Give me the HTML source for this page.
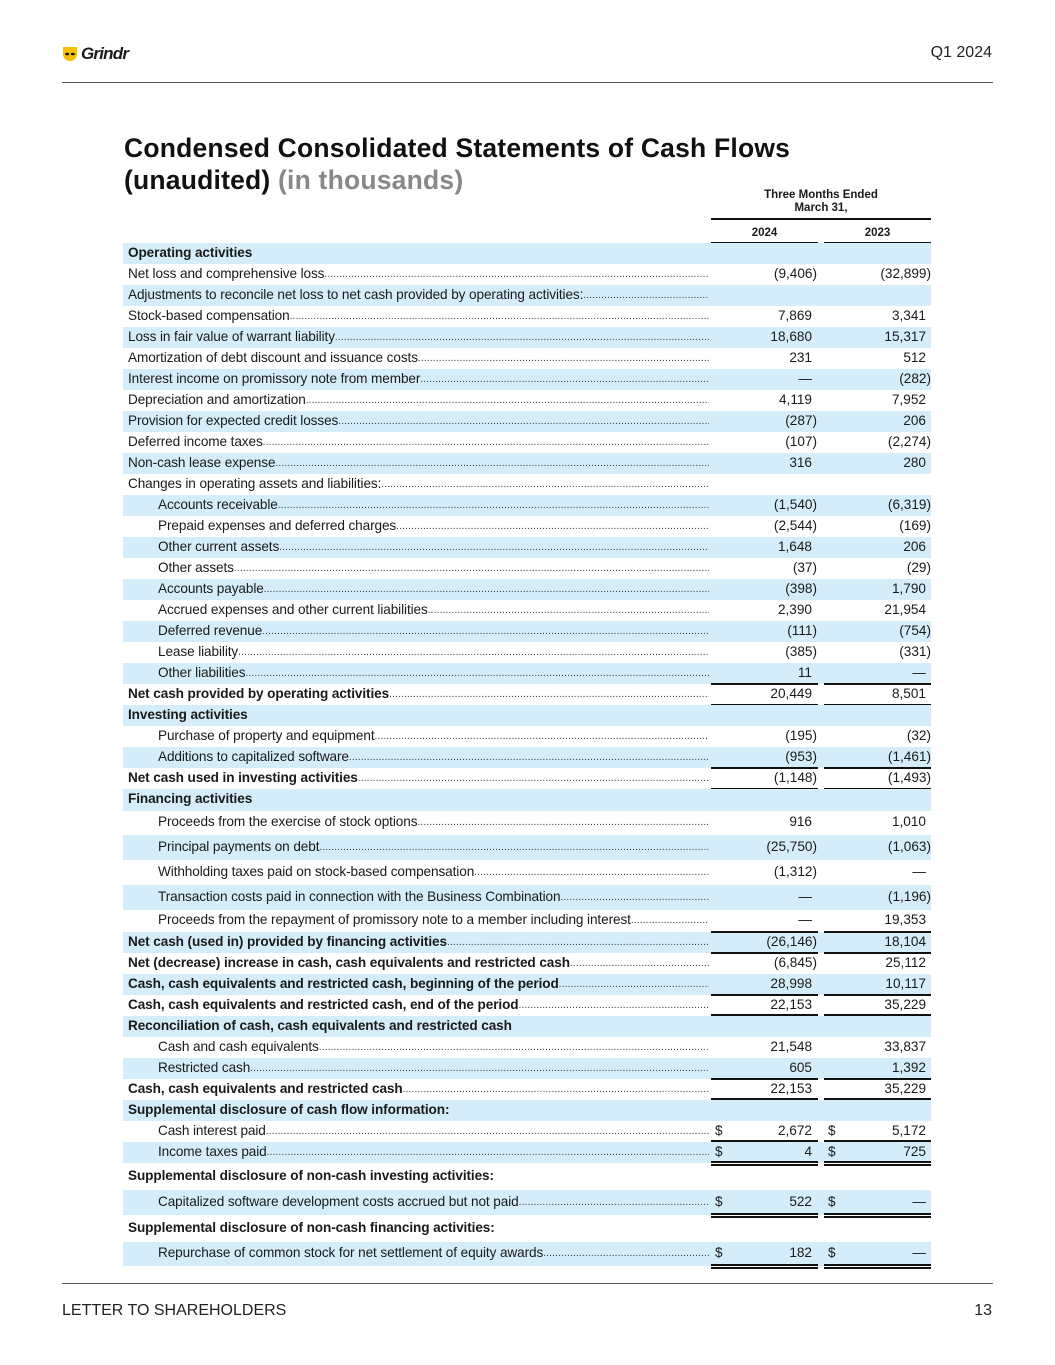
<!DOCTYPE html>
<html><head><meta charset="utf-8">
<style>
html,body{margin:0;padding:0;background:#fff}
body{width:1055px;height:1365px;position:relative;overflow:hidden;font-family:"Liberation Sans",sans-serif;color:#1a1a1a}
.abs{position:absolute}
.row{position:absolute;left:123px;width:808px}
.shade{background:#d5edfb}
.lab{position:absolute;left:5px;width:581px;display:flex;white-space:nowrap;overflow:hidden;font-size:13.6px;letter-spacing:-0.1px}
.lab.ind{left:35px;width:551px}
.dots{flex:1;overflow:hidden;color:#333;font-size:10px;letter-spacing:0.2px;align-self:flex-end;padding-bottom:1px;font-weight:normal}
.b{font-weight:bold}
.v{position:absolute;font-size:13.6px;text-align:right;white-space:nowrap}
.ln{position:absolute;height:1.5px;background:#111}
</style></head><body>
<div class="abs" style="left:62px;top:44px;display:flex;align-items:center">
<svg width="16" height="16" viewBox="0 0 16 16"><path d="M1 1h14v7c0 4-3 7-7 7S1 12 1 8z" fill="#f7c000"/><ellipse cx="5.2" cy="8" rx="2" ry="1.3" fill="#111"/><ellipse cx="10.8" cy="8" rx="2" ry="1.3" fill="#111"/></svg>
<span style="font-weight:bold;font-style:italic;font-size:17px;margin-left:3px;letter-spacing:-0.8px">Grindr</span></div>
<div class="abs" style="right:63px;top:44px;font-size:16px;color:#222">Q1 2024</div>
<div class="abs" style="left:62px;top:82px;width:931px;height:1px;background:#555"></div>
<div class="abs" style="left:124px;top:132px;font-size:26.5px;font-weight:bold;line-height:32px;color:#111;letter-spacing:0.2px">Condensed Consolidated Statements of Cash Flows<br>(unaudited) <span style="color:#888">(in thousands)</span></div>
<div class="abs b" style="left:711px;top:189px;width:220px;text-align:center;font-size:11.5px;line-height:13px">Three Months Ended<br>March 31,</div>
<div class="ln" style="left:711px;top:218px;width:220px"></div>
<div class="abs b" style="left:711px;top:227px;width:107px;text-align:center;font-size:11.5px">2024</div>
<div class="abs b" style="left:824px;top:227px;width:107px;text-align:center;font-size:11.5px">2023</div>
<div class="ln" style="left:711px;top:242px;width:107px"></div>
<div class="ln" style="left:824px;top:242px;width:107px"></div>
<div id="tbl"></div>
<div class="abs" style="left:62px;top:1283px;width:931px;height:1px;background:#555"></div>
<div class="abs" style="left:62px;top:1302px;font-size:16px;color:#222">LETTER TO SHAREHOLDERS</div>
<div class="abs" style="right:63px;top:1302px;font-size:16px;color:#222">13</div>
<script>
const labels=["Operating activities","Net loss and comprehensive loss","Adjustments to reconcile net loss to net cash provided by operating activities:","Stock-based compensation","Loss in fair value of warrant liability","Amortization of debt discount and issuance costs","Interest income on promissory note from member","Depreciation and amortization","Provision for expected credit losses","Deferred income taxes","Non-cash lease expense","Changes in operating assets and liabilities:","Accounts receivable","Prepaid expenses and deferred charges","Other current assets","Other assets","Accounts payable","Accrued expenses and other current liabilities","Deferred revenue","Lease liability","Other liabilities","Net cash provided by operating activities","Investing activities","Purchase of property and equipment","Additions to capitalized software","Net cash used in investing activities","Financing activities","Proceeds from the exercise of stock options","Principal payments on debt","Withholding taxes paid on stock-based compensation","Transaction costs paid in connection with the Business Combination","Proceeds from the repayment of promissory note to a member including interest","Net cash (used in) provided by financing activities","Net (decrease) increase in cash, cash equivalents and restricted cash","Cash, cash equivalents and restricted cash, beginning of the period","Cash, cash equivalents and restricted cash, end of the period","Reconciliation of cash, cash equivalents and restricted cash","Cash and cash equivalents","Restricted cash","Cash, cash equivalents and restricted cash","Supplemental disclosure of cash flow information:","Cash interest paid","Income taxes paid","Supplemental disclosure of non-cash investing activities:","Capitalized software development costs accrued but not paid","Supplemental disclosure of non-cash financing activities:","Repurchase of common stock for net settlement of equity awards"];
const v2024=["","(9,406)","","7,869","18,680","231","—","4,119","(287)","(107)","316","","(1,540)","(2,544)","1,648","(37)","(398)","2,390","(111)","(385)","11","20,449","","(195)","(953)","(1,148)","","916","(25,750)","(1,312)","—","—","(26,146)","(6,845)","28,998","22,153","","21,548","605","22,153","","2,672","4","","522","","182"];
const v2023=["","(32,899)","","3,341","15,317","512","(282)","7,952","206","(2,274)","280","","(6,319)","(169)","206","(29)","1,790","21,954","(754)","(331)","—","8,501","","(32)","(1,461)","(1,493)","","1,010","(1,063)","—","(1,196)","19,353","18,104","25,112","10,117","35,229","","33,837","1,392","35,229","","5,172","725","","—","","—"];
const styles=["h","n","n","n","n","n","n","n","n","n","n","n","i","i","i","i","i","i","i","i","i","b","h","i","i","b","h","i","i","i","i","i","b","b","b","b","h","i","i","b","h","i","i","h","i","h","i"];
const heights=[21,21,21,21,21,21,21,21,21,21,21,21,21,21,21,21,21,21,21,21,21,21,21,21,21,21,22,24,25,25,25,22,21,21,21,21,21,21,21,21,21,21,21,27,25,27,24];
const lines=["","","","","","","","","","","","","","","","","","","","","","tb","","","","tb","","","","","","","tb","","b","dt","","","","dt","","d","d","","d","","d"];
const dollar=[41,42,44,46];
const tbl=document.getElementById('tbl');
let yPos=243;
for(let k=0;k<labels.length;k++){
  const h=heights[k];
  const r=document.createElement('div');
  
  
  r.className='row'+(k%2===0?' shade':'');
  r.style.top=yPos+'px';r.style.height=h+'px';
  const s=styles[k];
  const lab=document.createElement('div');
  lab.className='lab'+(s==='i'?' ind':'')+((s==='h'||s==='b')?' b':'');
  lab.style.top=(h/2-9)+'px';
  lab.innerHTML='<span>'+labels[k]+'</span>'+(s!=='h'?'<span class="dots">'+'.'.repeat(300)+'</span>':'');
  r.appendChild(lab);
  [[v2024[k],689],[v2023[k],803]].forEach(function(p,ci){
    const val=p[0],right=p[1];
    if(val==='')return;
    const e=document.createElement('div');
    e.className='v';
    
    
    const paren=val.endsWith(')');
    e.style.right=(808-right-(paren?5:0))+'px';
    e.style.top=(h/2-9)+'px';
    e.textContent=val;
    r.appendChild(e);
    if(dollar.includes(k)){
      const d=document.createElement('div');
      d.className='v';
      
      
      d.style.left=(ci?705:592)+'px';d.style.top=(h/2-9)+'px';d.textContent='$';
      r.appendChild(d);
    }
  });
  tbl.appendChild(r);
  const L=lines[k];
  const rowTop=yPos;
  [711,824].forEach(function(x){
    const mk=function(y){const l=document.createElement('div');l.className='ln';l.style.left=x+'px';l.style.top=y+'px';l.style.width='107px';tbl.appendChild(l);};
    if(L.includes('t'))mk(rowTop-1);
    if(L.includes('b'))mk(rowTop+h-1);
    if(L.includes('d')){mk(rowTop+h-2);mk(rowTop+h+1);}
  });
  yPos+=h;
}
</script>
</body></html>
